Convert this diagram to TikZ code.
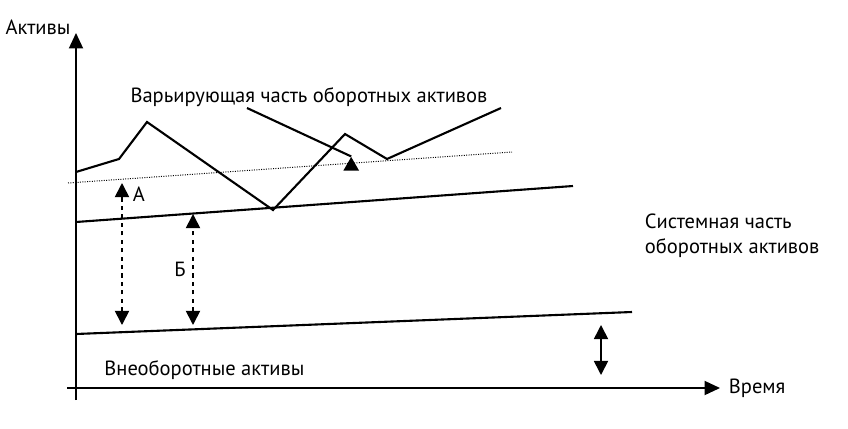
\documentclass[tikz,border=0pt]{standalone}
\usepackage{fontspec}
\setmainfont{PT Sans}
\usetikzlibrary{arrows.meta,shapes.geometric}

\tikzset{
  axis/.style={line width=1.2pt, -{Triangle[width=10pt,length=11pt]}},
  level/.style={line width=1.5pt},
  gap/.style={line width=1.2pt, dashed, {Triangle[width=10pt,length=10pt]}-{Triangle[width=10pt,length=10pt]}},
  span/.style={line width=1.2pt, {Triangle[width=10pt,length=10pt]}-{Triangle[width=10pt,length=10pt]}},
  marker/.style={regular polygon, regular polygon sides=3, fill, inner sep=0pt, minimum size=0.45cm},
  lbl/.style={font=\fontsize{14.6}{17.8}\selectfont}
}

\begin{document}
\begin{tikzpicture}

\useasboundingbox (0,0) rectangle (21.2,10.7);

% Axes
\coordinate (ybot) at (1.9,0.7);
\coordinate (ytop) at (1.9,9.875);
\coordinate (xleft) at (1.675,1.0);
\coordinate (xright) at (18.0,1.0);
\draw[axis] (ybot) -- (ytop);
\draw[axis] (xleft) -- (xright);

% Axis labels
\node[lbl] (assets) at (0.95,10.03) {Активы};
\node[lbl, right] (time) at (18.1,1.0) {Время};

% Levels: fixed part and systemic part
\coordinate (fixL) at (1.9,2.35);
\coordinate (fixR) at (15.8,2.9);
\coordinate (sysL) at (1.9,5.15);
\coordinate (sysR) at (14.325,6.05);
\begin{scope}[level]
\draw (fixL) -- (fixR);
\draw (sysL) -- (sysR);
\end{scope}

% Average level (dotted)
\coordinate (avgL) at (1.7,6.125);
\coordinate (avgR) at (12.8,6.9);
\draw[densely dotted, line width=0.7pt] (avgL) -- (avgR);

% Variable part (zigzag)
\coordinate (z1) at (1.9,6.4);
\coordinate (z2) at (2.975,6.725);
\coordinate (z3) at (3.675,7.65);
\coordinate (z4) at (6.825,5.45);
\coordinate (z5) at (8.625,7.35);
\coordinate (z6) at (9.675,6.725);
\coordinate (z7) at (12.525,8.0);
\draw[level] (z1) -- (z2) -- (z3) -- (z4) -- (z5) -- (z6) -- (z7);

% Label of variable part with leader
\node[lbl] (var) at (7.725,8.28) {Варьирующая часть оборотных активов};
\coordinate (lead) at (6.175,8.0);
\node[marker] (tri) at (8.78,6.55) {};
\draw[level] (lead) -- (tri.north);

% Gaps A and B
\coordinate (aTop) at (3.05,6.125);
\coordinate (aBot) at (3.05,2.575);
\coordinate (bTop) at (4.825,5.35);
\coordinate (bBot) at (4.825,2.575);
\draw[gap] (aBot) -- (aTop);
\draw[gap] (bBot) -- (bTop);
\node[lbl, right] (la) at (3.2,5.85) {А};
\node[lbl] (lb) at (4.5,3.975) {Б};

% Fixed assets span
\coordinate (sTop) at (15.025,2.575);
\coordinate (sBot) at (15.025,1.325);
\draw[span] (sBot) -- (sTop);

% Other labels
\node[lbl, align=left, right] (sys) at (16.0,4.81) {Системная часть\\оборотных активов};
\node[lbl] (fix) at (5.11,1.45) {Внеоборотные активы};

\end{tikzpicture}
\end{document}
